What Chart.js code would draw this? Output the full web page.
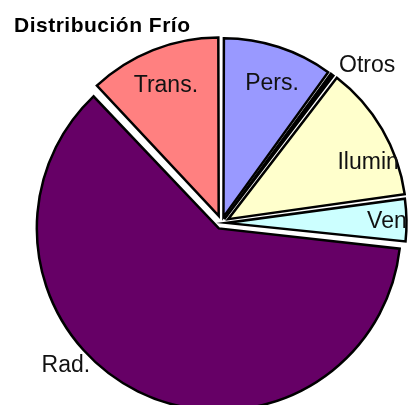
<!DOCTYPE html>
<html>
<head>
<meta charset="utf-8">
<script src="https://cdn.jsdelivr.net/npm/chart.js@4"></script>
<style>
  html, body { margin: 0; padding: 0; background: #fff; overflow: hidden; }
  #wrap { position: relative; width: 411px; height: 405px; }
</style>
</head>
<body>
<div id="wrap"><canvas id="pie" width="411" height="405"></canvas></div>
<script>
// Data (percent of total)
const chartTitle = "Distribución Frío";
const categories = ["Pers.", "Otros", "Ilumin", "Ven", "Rad.", "Trans."];
const shares = [10.0, 0.4, 12.4, 3.9, 61.3, 12.0];
const sliceColors = ["#9999FF", "#000000", "#FFFFCC", "#CCFFFF", "#660066", "#FF8080"];

// how far each slice is pulled out, in px
const explodePx = [9, 9, 10, 9, 12, 10];

// where each label sits: fraction of the outer radius, and nudge (deg) from the slice middle
const labelPlace = [
  { f: 0.84, da: 2 },
  { f: 1.22, da: 6 },
  { f: 0.90, da: 8 },
  { f: 0.94, da: 0.5 },
  { f: 1.20, da: 21 },
  { f: 0.84, da: -0.5 }
];

// Chart.js moves a slice by offset/4 * (2 - sin(angle)); turn the px wanted into its offset
function sliceOffsets(values) {
  const total = values.reduce((s, v) => s + v, 0);
  return values.map((v, i) => {
    const c = Math.min(Math.PI, v / total * 2 * Math.PI);
    return explodePx[i] * 4 / (2 - Math.sin(c));
  });
}

// Title + slice labels
const labelPlugin = {
  id: "sliceLabels",
  afterDatasetsDraw(chart) {
    const ctx = chart.ctx;
    const arcs = chart.getDatasetMeta(0).data;
    ctx.save();
    ctx.fillStyle = "#111";
    ctx.font = "23px 'Liberation Sans', Arial, sans-serif";
    ctx.textAlign = "center";
    ctx.textBaseline = "middle";
    arcs.forEach((arc, i) => {
      const p = arc.getProps(["x", "y", "startAngle", "endAngle", "outerRadius"], true);
      const a = (p.startAngle + p.endAngle) / 2 + labelPlace[i].da * Math.PI / 180;
      const r = p.outerRadius * labelPlace[i].f;
      ctx.fillText(categories[i], p.x + Math.cos(a) * r, p.y + Math.sin(a) * r);
    });
    ctx.restore();
  },
  afterDraw(chart) {
    const ctx = chart.ctx;
    ctx.save();
    ctx.fillStyle = "#000";
    ctx.font = "bold 21px 'Liberation Sans', Arial, sans-serif";
    if ("letterSpacing" in ctx) ctx.letterSpacing = "0.5px";
    ctx.textAlign = "left";
    ctx.textBaseline = "alphabetic";
    ctx.fillText(chartTitle, 14, 32);
    ctx.restore();
  }
};

new Chart(document.getElementById("pie"), {
  type: "pie",
  data: {
    labels: categories,
    datasets: [{
      data: shares,
      backgroundColor: sliceColors,
      borderColor: "#000",
      borderWidth: 2.5,
      borderJoinStyle: "miter",
      offset: sliceOffsets(shares)
    }]
  },
  options: {
    responsive: false,
    animation: false,
    events: [],
    radius: 176,
    layout: { padding: { left: 32, top: 41, right: 0, bottom: 0 } },
    plugins: {
      legend: { display: false },
      tooltip: { enabled: false },
      title: { display: false }
    }
  },
  plugins: [labelPlugin]
});
</script>
</body>
</html>
